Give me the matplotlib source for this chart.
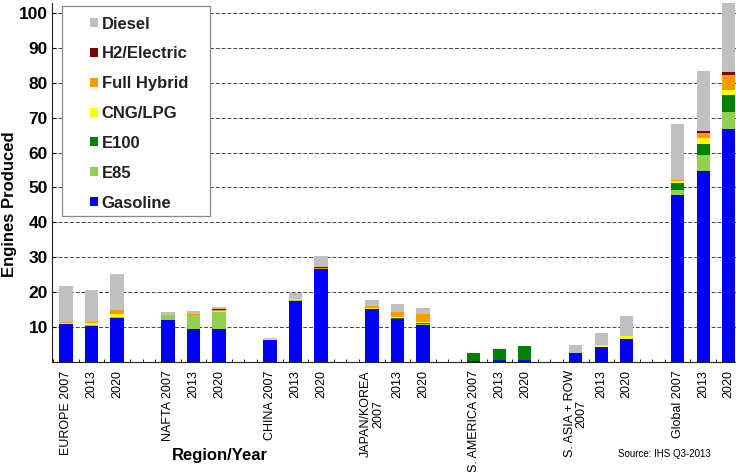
import matplotlib
matplotlib.use("Agg")
import matplotlib.pyplot as plt
from matplotlib.patches import Rectangle
import numpy as np

plt.rcParams['font.family'] = ['Liberation Sans', 'DejaVu Sans']

# bar labels, in plotting order
labels = ['EUROPE 2007', '2013', '2020',
          'NAFTA 2007', '2013', '2020',
          'CHINA 2007', '2013', '2020',
          'JAPAN/KOREA\n2007', '2013', '2020',
          'S. AMERICA 2007', '2013', '2020',
          'S. ASIA + ROW\n2007', '2013', '2020',
          'Global 2007', '2013', '2020']

# millions of engines, per technology (bottom to top)
gasoline = [10.8, 10.3, 12.6, 12.0, 9.4, 9.4, 6.4, 17.5, 26.6, 15.1, 12.2, 10.7,
            0.3, 0.6, 0.6, 2.6, 4.4, 6.5, 47.8, 54.6, 66.7]
e85 = [0.2, 0.2, 0.3, 1.5, 4.1, 5.0, 0.0, 0.2, 0.0, 0.0, 0.2, 0.2,
       0.0, 0.0, 0.0, 0.0, 0.0, 0.0, 1.5, 4.7, 5.0]
e100 = [0.0, 0.0, 0.0, 0.0, 0.0, 0.0, 0.0, 0.0, 0.0, 0.1, 0.2, 0.2,
        2.2, 3.0, 4.1, 0.0, 0.0, 0.0, 2.1, 3.3, 4.8]
cng = [0.3, 0.8, 0.9, 0.0, 0.1, 0.2, 0.1, 0.3, 0.0, 0.4, 0.3, 0.3,
       0.0, 0.0, 0.0, 0.0, 0.6, 0.9, 0.5, 1.5, 1.4]
hybrid = [0.1, 0.2, 1.1, 0.0, 0.3, 0.4, 0.0, 0.1, 0.2, 0.5, 1.4, 2.3,
          0.0, 0.0, 0.0, 0.0, 0.0, 0.0, 0.3, 1.6, 4.3]
h2 = [0.0, 0.0, 0.1, 0.0, 0.0, 0.2, 0.0, 0.0, 0.5, 0.0, 0.0, 0.0,
      0.0, 0.0, 0.0, 0.0, 0.0, 0.0, 0.0, 0.5, 1.0]
diesel = [10.4, 9.1, 10.1, 0.8, 0.7, 0.6, 0.3, 1.8, 3.1, 1.6, 2.2, 1.7,
          0.1, 0.0, 0.0, 2.2, 3.2, 5.9, 15.9, 17.2, 21.0]

series = [('Gasoline', gasoline, '#0000f5'),
          ('E85', e85, '#92d050'),
          ('E100', e100, '#008000'),
          ('CNG/LPG', cng, '#ffff00'),
          ('Full Hybrid', hybrid, '#ff9900'),
          ('H2/Electric', h2, '#800000'),
          ('Diesel', diesel, '#c0c0c0')]

# positions: groups of three with a gap slot between
x = np.array([g * 4 + i for g in range(7) for i in range(3)])

fig = plt.figure(figsize=(7.36, 4.72), dpi=100)
ax = fig.add_axes([0.0707, 0.233, 0.935, 0.761])

bottom = np.zeros(len(x))
handles = []
for name, vals, col in series:
    vals = np.array(vals)
    b = ax.bar(x, vals, 0.52, bottom=bottom, color=col, label=name, zorder=3)
    bottom += vals
    handles.append(b)

ax.set_xlim(-0.55, 26.45)
ax.set_ylim(0, 102.9)
ax.set_yticks(np.arange(10, 101, 10))
ax.tick_params(axis='y', labelsize=12.5, direction='in', length=3, pad=3)
for t in ax.get_yticklabels():
    t.set_fontweight('bold')
ax.yaxis.grid(True, linestyle=(0, (4, 2)), color='#444444', linewidth=0.7, zorder=0)

ax.set_xticks(x)
ax.set_xticklabels(labels, rotation=90, fontsize=9, va='top', ha='center', linespacing=1.0)
ax.tick_params(axis='x', length=0, pad=6)
ax.set_xticks(np.arange(-0.5, 26.5, 0.5), minor=True)
ax.tick_params(axis='x', which='minor', length=2, direction='in')

for s in ['top', 'right']:
    ax.spines[s].set_visible(False)
ax.spines['left'].set_linestyle((0, (2, 1)))
ax.spines['bottom'].set_linestyle((0, (2, 1)))
ax.spines['left'].set_color('#222222')
ax.spines['bottom'].set_color('#222222')

# legend box drawn separately so the padding can match
box = Rectangle((0.0842, 0.5424), 0.201, 0.445, transform=fig.transFigure,
                facecolor='white', edgecolor='#888888', linewidth=0.9, zorder=4)
ax.add_patch(box)
box.set_clip_on(False)

leg = ax.legend(handles[::-1], [s[0] for s in series][::-1], loc='upper left',
                bbox_to_anchor=(0.1223, 0.965), bbox_transform=fig.transFigure,
                prop={'weight': 'bold', 'size': 12},
                handlelength=0.45, handleheight=0.45, labelspacing=0.89,
                borderpad=0, borderaxespad=0, handletextpad=0.25, frameon=False)
leg.set_zorder(5)
for t in leg.get_texts():
    t.set_color('#222222')

fig.text(0.299, 0.034, 'Region/Year', fontsize=12, fontweight='bold', ha='center', va='center')
fig.text(0.013, 0.568, 'Engines Produced', fontsize=12, fontweight='bold',
         rotation=90, ha='center', va='center')
fig.text(0.903, 0.038, 'Source: IHS Q3-2013', fontsize=7, ha='center', va='center')

fig.savefig('out.png', dpi=100)
